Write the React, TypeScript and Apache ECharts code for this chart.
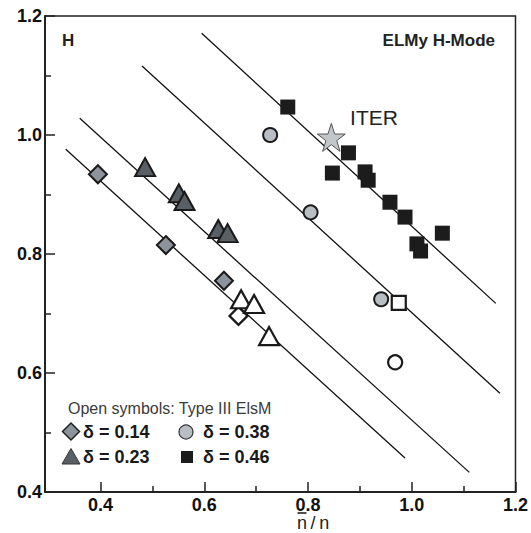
import React, { useEffect, useRef } from "react";
import * as echarts from "echarts";

const xTicks = [0.4, 0.6, 0.8, 1.0, 1.2];
const xMinorTicks = [0.5, 0.7, 0.9, 1.1];
const yTicks = [0.4, 0.6, 0.8, 1.0, 1.2];
const yMinorTicks = [0.5, 0.7, 0.9, 1.1];

const diamondFilled = [[0.395, 0.934], [0.526, 0.815], [0.638, 0.755]];
const diamondOpen = [[0.666, 0.696]];
const triangleFilled = [[0.486, 0.946], [0.551, 0.902], [0.562, 0.889], [0.627, 0.842], [0.645, 0.835]];
const triangleOpen = [[0.671, 0.724], [0.696, 0.716], [0.725, 0.662]];
const circleFilled = [[0.727, 1.0], [0.805, 0.87], [0.941, 0.724]];
const circleOpen = [[0.968, 0.618]];
const squareFilled = [
  [0.761, 1.047], [0.847, 0.936], [0.878, 0.97], [0.91, 0.938], [0.916, 0.924],
  [0.958, 0.887], [0.987, 0.862], [1.01, 0.817], [1.017, 0.805], [1.059, 0.835],
];
const squareOpen = [[0.975, 0.718]];
const iterPoint = [[0.845, 0.996]];
const fitLines = [
  [[0.333, 0.976], [0.987, 0.457]],
  [[0.36, 1.028], [1.111, 0.433]],
  [[0.48, 1.116], [1.17, 0.566]],
  [[0.595, 1.171], [1.162, 0.717]],
];
const legendLabels = ["δ = 0.14", "δ = 0.23", "δ = 0.38", "δ = 0.46"];

const FONT = "'Liberation Sans', Arial, Helvetica, sans-serif";
const C_DIAMOND = "#8d939b";
const C_TRIANGLE = "#586065";
const C_CIRCLE = "#b9bec4";
const C_SQUARE = "#1c1c1c";
const STAR =
  "path://M50,0 L61.8,35.3 L99,35.3 L69,57.1 L80.4,92.7 L50,70.6 L19.6,92.7 L31,57.1 L1,35.3 L38.2,35.3 Z";

export default function App() {
  const ref = useRef<HTMLDivElement>(null);
  useEffect(() => {
    if (!ref.current) return;
    const chart = echarts.init(ref.current, null, { renderer: "svg" });
    const scatter = (name: string, data: number[][], symbol: string, size: any, fill: string, border: string, bw: number, z = 3) => ({
      name,
      type: "scatter",
      data,
      symbol,
      symbolSize: size,
      z,
      itemStyle: { color: fill, borderColor: border, borderWidth: bw, opacity: 1 },
      emphasis: { disabled: true },
    });
    const series: any[] = fitLines.map((pts, i) => ({
      name: "fit" + i,
      type: "line",
      data: pts,
      symbol: "none",
      z: 1,
      lineStyle: { color: "#111", width: 1.3 },
      silent: true,
    }));
    series.push(
      scatter(legendLabels[0], diamondFilled, "diamond", 18, C_DIAMOND, "#1a1a1a", 2),
      scatter("δ = 0.14 open", diamondOpen, "diamond", 18, "#ffffff", "#1a1a1a", 2.2),
      scatter(legendLabels[1], triangleFilled, "triangle", [20, 18], C_TRIANGLE, "#1a1a1a", 2),
      scatter("δ = 0.23 open", triangleOpen, "triangle", [20, 18], "#ffffff", "#1a1a1a", 2.2),
      scatter(legendLabels[2], circleFilled, "circle", 14, C_CIRCLE, "#1a1a1a", 2),
      scatter("δ = 0.38 open", circleOpen, "circle", 14, "#ffffff", "#1a1a1a", 2.2),
      scatter(legendLabels[3], squareFilled, "rect", 15, C_SQUARE, C_SQUARE, 0),
      scatter("δ = 0.46 open", squareOpen, "rect", 14, "#ffffff", "#1a1a1a", 2.2),
      scatter("ITER", iterPoint, STAR, 28, "#c3c7cc", "#555", 1, 4)
    );

    const fmt = (v: number) => v.toFixed(1);
    const majorLabel = { fontFamily: FONT, fontWeight: "bold", fontSize: 18, color: "#111", formatter: fmt };
    chart.setOption({
      animation: false,
      grid: {
        left: 45, right: 12, top: 16, bottom: 41,
        show: true, borderColor: "#222", borderWidth: 1.5,
      },
      xAxis: [
        {
          type: "value", min: 0.293, max: 1.2,
          axisLine: { show: true, lineStyle: { color: "#222", width: 2 } },
          axisTick: { show: true, inside: true, length: 10, customValues: xTicks, lineStyle: { color: "#222", width: 1.5 } },
          axisLabel: { ...majorLabel, customValues: xTicks, margin: 4 },
          splitLine: { show: false },
        },
        {
          type: "value", min: 0.293, max: 1.2, position: "bottom",
          axisLine: { show: false },
          axisTick: { show: true, inside: true, length: 6, customValues: xMinorTicks, lineStyle: { color: "#222", width: 1.5 } },
          axisLabel: { show: false },
          splitLine: { show: false },
        },
      ],
      yAxis: [
        {
          type: "value", min: 0.4, max: 1.2,
          axisLine: { show: true, lineStyle: { color: "#222", width: 2 } },
          axisTick: { show: true, inside: true, length: 10, customValues: yTicks, lineStyle: { color: "#222", width: 1.5 } },
          axisLabel: { ...majorLabel, customValues: yTicks, margin: 3 },
          splitLine: { show: false },
        },
        {
          type: "value", min: 0.4, max: 1.2, position: "left",
          axisLine: { show: false },
          axisTick: { show: true, inside: true, length: 6, customValues: yMinorTicks, lineStyle: { color: "#222", width: 1.5 } },
          axisLabel: { show: false },
          splitLine: { show: false },
        },
      ],
      series,
      graphic: [
        { type: "text", left: 62, top: 32, style: { text: "H", font: `bold 17px ${FONT}`, fill: "#222" } },
        { type: "text", right: 36, top: 32, style: { text: "ELMy H-Mode", font: `bold 17px ${FONT}`, fill: "#222" } },
        { type: "text", x: 374, y: 117, style: { text: "ITER", font: `21px ${FONT}`, fill: "#222", align: "center", verticalAlign: "middle" } },
        { type: "text", x: 297, y: 523, style: { text: "n\u2009/\u2009n", font: `18px ${FONT}`, fill: "#222", align: "left", verticalAlign: "middle" } },
        { type: "line", shape: { x1: 297.5, y1: 513, x2: 306.5, y2: 513 }, style: { stroke: "#222", lineWidth: 1.6 } },
        { type: "text", x: 68, y: 408, style: { text: "Open symbols: Type III ElsM", font: `16px ${FONT}`, fill: "#3a3a3a", verticalAlign: "middle" } },
        { type: "polygon", shape: { points: [[71, 423], [79.5, 431.5], [71, 440], [62.5, 431.5]] }, style: { fill: C_DIAMOND, stroke: "#222", lineWidth: 1.5 } },
        { type: "text", x: 83, y: 432, style: { text: legendLabels[0], font: `bold 18px ${FONT}`, fill: "#1a1a1a", verticalAlign: "middle" } },
        { type: "circle", shape: { cx: 186, cy: 432, r: 7 }, style: { fill: C_CIRCLE, stroke: "#333", lineWidth: 1.2 } },
        { type: "text", x: 203, y: 432, style: { text: legendLabels[2], font: `bold 18px ${FONT}`, fill: "#1a1a1a", verticalAlign: "middle" } },
        { type: "polygon", shape: { points: [[71, 448.5], [80, 464], [62, 464]] }, style: { fill: C_TRIANGLE, stroke: "#333", lineWidth: 1 } },
        { type: "text", x: 83, y: 457, style: { text: legendLabels[1], font: `bold 18px ${FONT}`, fill: "#1a1a1a", verticalAlign: "middle" } },
        { type: "rect", shape: { x: 181, y: 451, width: 12, height: 12 }, style: { fill: C_SQUARE } },
        { type: "text", x: 203, y: 457, style: { text: legendLabels[3], font: `bold 18px ${FONT}`, fill: "#1a1a1a", verticalAlign: "middle" } },
      ],
    });
    return () => chart.dispose();
  }, []);
  return <div ref={ref} style={{ position: "fixed", left: 0, top: 0, width: 531, height: 533, background: "#fff" }} />;
}
